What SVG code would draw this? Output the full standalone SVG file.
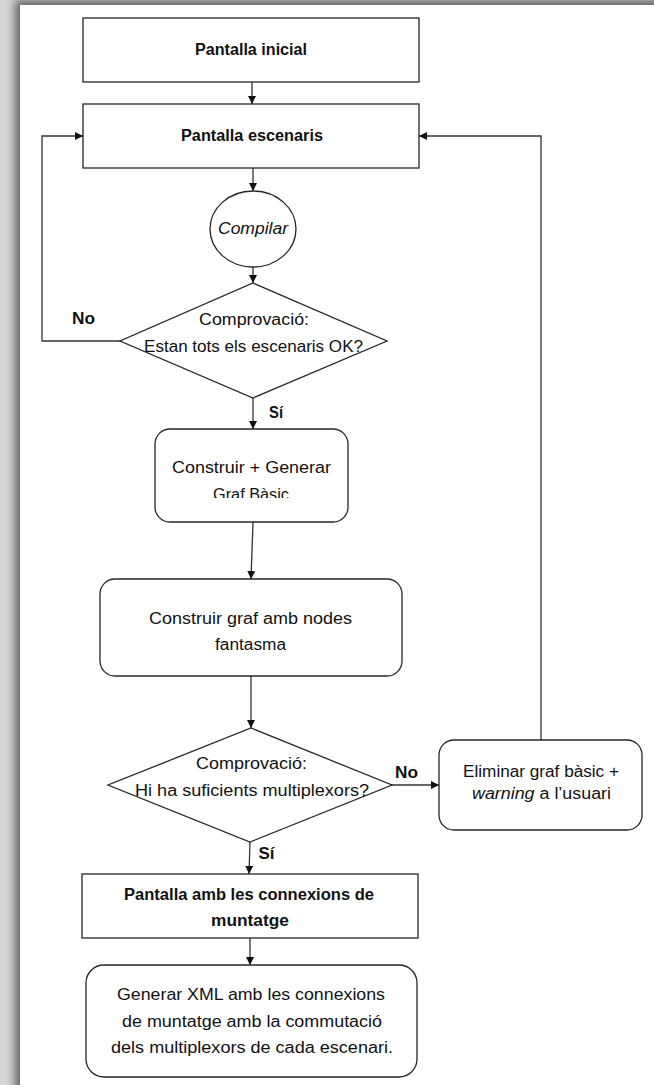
<svg xmlns="http://www.w3.org/2000/svg" width="654" height="1085" viewBox="0 0 654 1085">
<defs>
<style>
.n{fill:#fff;stroke:#262626;stroke-width:1.3}
.c{fill:none;stroke:#333;stroke-width:1.3}
.t{font-family:"Liberation Sans",Arial,sans-serif;font-size:16px;fill:#111;text-anchor:middle}
.b{font-weight:bold}
.i{font-style:italic}
</style>
<marker id="ah" viewBox="0 0 10 10" refX="10" refY="5" markerWidth="8" markerHeight="8" markerUnits="userSpaceOnUse" orient="auto"><path d="M0,0 L10,5 L0,10 z" fill="#111"/></marker>
<filter id="sh" x="-10%" y="-10%" width="120%" height="120%"><feGaussianBlur stdDeviation="5"/></filter>
<clipPath id="cl3"><rect x="150" y="425" width="205" height="73"/></clipPath>
</defs>
<g id="page">
<rect x="0" y="0" width="654" height="1085" fill="#d6d6d6"/>
<rect x="15" y="0" width="660" height="1100" fill="#000" opacity="0.55" filter="url(#sh)"/>
<rect x="20" y="5" width="640" height="1090" fill="#fff"/>
</g>
<g id="connectors">
<line class="c" x1="252" y1="82" x2="252" y2="104" marker-end="url(#ah)"/>
<line class="c" x1="253" y1="168" x2="253" y2="191" marker-end="url(#ah)"/>
<line class="c" x1="253" y1="267" x2="253" y2="283" marker-end="url(#ah)"/>
<polyline class="c" points="120,341 42,341 42,136 83,136" marker-end="url(#ah)"/>
<line class="c" x1="253" y1="398" x2="253" y2="429" marker-end="url(#ah)"/>
<line class="c" x1="253" y1="522" x2="251" y2="579" marker-end="url(#ah)"/>
<line class="c" x1="251" y1="676" x2="251" y2="728" marker-end="url(#ah)"/>
<line class="c" x1="390" y1="785" x2="439" y2="785" marker-end="url(#ah)"/>
<polyline class="c" points="541,740 541,136 419,136" marker-end="url(#ah)"/>
<line class="c" x1="250" y1="842" x2="249" y2="874" marker-end="url(#ah)"/>
<line class="c" x1="250" y1="938" x2="250" y2="965" marker-end="url(#ah)"/>
<text class="t b" x="83.5" y="324" textLength="23" lengthAdjust="spacingAndGlyphs">No</text>
<text class="t b" x="276" y="418" textLength="14" lengthAdjust="spacingAndGlyphs">Sí</text>
<text class="t b" x="406.5" y="778" textLength="23" lengthAdjust="spacingAndGlyphs">No</text>
<text class="t b" x="266.5" y="859" textLength="16" lengthAdjust="spacingAndGlyphs">Sí</text>
</g>
<g id="pantalla-inicial">
<rect class="n" x="83" y="18" width="336" height="64"/>
<text class="t b" x="251" y="55" textLength="112" lengthAdjust="spacingAndGlyphs">Pantalla inicial</text>
</g>
<g id="pantalla-escenaris">
<rect class="n" x="83" y="104" width="336" height="64"/>
<text class="t b" x="252" y="141" textLength="142" lengthAdjust="spacingAndGlyphs">Pantalla escenaris</text>
</g>
<g id="compilar">
<ellipse class="n" cx="253" cy="229" rx="43" ry="38"/>
<text class="t i" x="253" y="234" textLength="70" lengthAdjust="spacingAndGlyphs">Compilar</text>
</g>
<g id="comprovacio-escenaris">
<polygon class="n" points="253,283 387,341 253,398 120,341"/>
<text class="t" x="254" y="325" textLength="110" lengthAdjust="spacingAndGlyphs">Comprovació:</text>
<text class="t" x="253.5" y="352" textLength="219" lengthAdjust="spacingAndGlyphs">Estan tots els escenaris OK?</text>
</g>
<g id="construir-graf-basic">
<rect class="n" x="155" y="429" width="193" height="93" rx="15"/>
<text class="t" x="251.5" y="473" textLength="159" lengthAdjust="spacingAndGlyphs">Construir + Generar</text>
<text class="t" x="251" y="500" textLength="76" lengthAdjust="spacingAndGlyphs" clip-path="url(#cl3)">Graf Bàsic</text>
</g>
<g id="construir-graf-fantasma">
<rect class="n" x="100" y="579" width="302" height="97" rx="15"/>
<text class="t" x="250.5" y="624" textLength="203" lengthAdjust="spacingAndGlyphs">Construir graf amb nodes</text>
<text class="t" x="250.5" y="650" textLength="71" lengthAdjust="spacingAndGlyphs">fantasma</text>
</g>
<g id="comprovacio-multiplexors">
<polygon class="n" points="251,728 392,785 250,842 108,785"/>
<text class="t" x="251.5" y="769" textLength="111" lengthAdjust="spacingAndGlyphs">Comprovació:</text>
<text class="t" x="252" y="796" textLength="234" lengthAdjust="spacingAndGlyphs">Hi ha suficients multiplexors?</text>
</g>
<g id="eliminar-graf">
<rect class="n" x="439" y="740" width="203" height="90" rx="15"/>
<text class="t" x="541" y="777" textLength="156" lengthAdjust="spacingAndGlyphs">Eliminar graf bàsic +</text>
<text class="t" x="541.5" y="799" textLength="139" lengthAdjust="spacingAndGlyphs"><tspan class="i">warning</tspan> a l’usuari</text>
</g>
<g id="pantalla-connexions">
<rect class="n" x="82" y="874" width="336" height="64"/>
<text class="t b" x="249" y="900" textLength="250" lengthAdjust="spacingAndGlyphs">Pantalla amb les connexions de</text>
<text class="t b" x="250" y="926" textLength="78" lengthAdjust="spacingAndGlyphs">muntatge</text>
</g>
<g id="generar-xml">
<rect class="n" x="86" y="965" width="331" height="112" rx="18"/>
<text class="t" x="251" y="1000" textLength="268" lengthAdjust="spacingAndGlyphs">Generar XML amb les connexions</text>
<text class="t" x="252" y="1027" textLength="260" lengthAdjust="spacingAndGlyphs">de muntatge amb la commutació</text>
<text class="t" x="252" y="1053" textLength="282" lengthAdjust="spacingAndGlyphs">dels multiplexors de cada escenari.</text>
</g>
</svg>
